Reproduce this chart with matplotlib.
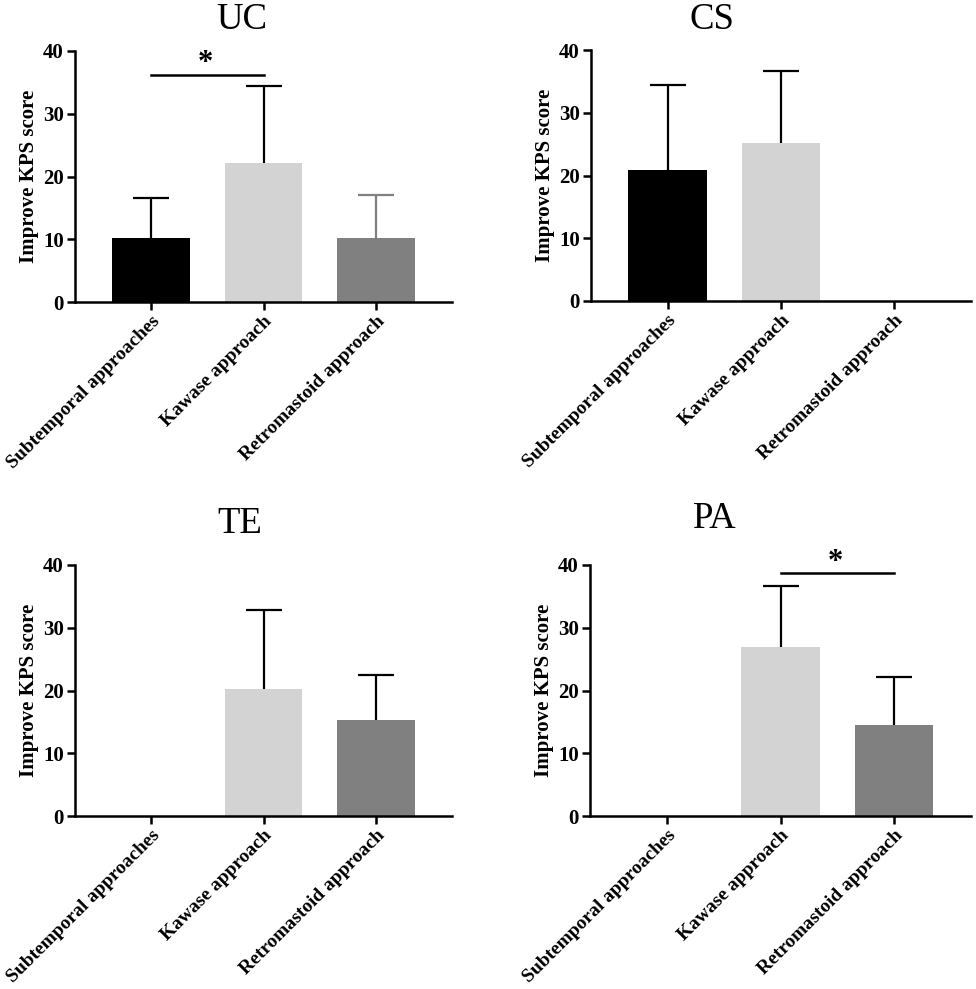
import numpy as np
import matplotlib
matplotlib.use("Agg")
import matplotlib.pyplot as plt

plt.rcParams['font.family'] = ['Liberation Serif', 'DejaVu Serif']

# categories and colours
groups = ["Subtemporal approaches", "Kawase approach", "Retromastoid approach"]
colors = ["#000000", "#d3d3d3", "#808080"]

# mean improvement of KPS score and SD (upper bar only), nan = no bar
uc_mean = [10.2, 22.2, 10.2]
uc_sd = [6.4, 12.3, 6.85]
cs_mean = [20.8, 25.2, np.nan]
cs_sd = [13.7, 11.5, np.nan]
te_mean = [np.nan, 20.2, 15.25]
te_sd = [np.nan, 12.6, 7.25]
pa_mean = [np.nan, 27.0, 14.45]
pa_sd = [np.nan, 9.65, 7.65]

# significance marks: (from, to, line height, star height)
uc_sig = (0, 1, 36.2, 38.0)
pa_sig = (1, 2, 38.7, 40.4)

fig = plt.figure(figsize=(9.76, 9.89), dpi=100)
W, H = 976, 989


def box(l, r, t, b):
    return [l / W, 1 - b / H, (r - l) / W, (b - t) / H]


panels = [
    ("UC", uc_mean, uc_sd, uc_sig, box(75, 452, 51, 302), (242, 29), ["#000000", "#000000", "#808080"]),
    ("CS", cs_mean, cs_sd, None, box(591, 971, 50, 301), (712, 29), ["#000000"] * 3),
    ("TE", te_mean, te_sd, None, box(75, 452, 565, 816), (240, 533), ["#000000"] * 3),
    ("PA", pa_mean, pa_sd, pa_sig, box(590, 971, 565, 816), (715, 528), ["#000000"] * 3),
]

x = np.arange(len(groups))
for name, mean, sd, sig, rect, tpos, ecols in panels:
    ax = fig.add_axes(rect)
    for i in range(len(groups)):
        if np.isnan(mean[i]):
            continue
        ax.bar(x[i], mean[i], width=0.69, color=colors[i], zorder=2)
        eb = ax.errorbar(x[i], mean[i], yerr=[[0], [sd[i]]], fmt='none',
                         ecolor=ecols[i], elinewidth=1.6, capsize=13, capthick=1.6, zorder=3)
        eb[1][0].set_visible(False)  # no cap at the bar top
    ax.set_xlim(-0.675, 2.675)
    ax.set_ylim(0, 40)
    ax.set_yticks([0, 10, 20, 30, 40])
    ax.set_xticks(x)
    ax.set_xticklabels(groups, rotation=45, ha='right', rotation_mode='anchor',
                       fontsize=14, fontweight='bold')
    for lab in ax.get_yticklabels():
        lab.set_fontsize(15)
        lab.set_fontweight('bold')
    ax.set_ylabel("Improve KPS score", fontsize=15, fontweight='bold', labelpad=3)
    ax.spines['top'].set_visible(False)
    ax.spines['right'].set_visible(False)
    for s in ('left', 'bottom'):
        ax.spines[s].set_linewidth(1.8)
    ax.tick_params(axis='both', width=1.8, length=6, direction='out', pad=2)
    if sig is not None:
        a, b, h, sh = sig
        ax.plot([a, b], [h, h], color='black', lw=1.8, clip_on=False)
        ax.text((a + b) / 2 - 0.02, sh, "*", ha='center', va='center',
                fontsize=22, fontweight='bold', clip_on=False)
    fig.text(tpos[0] / W, 1 - tpos[1] / H, name, ha='center', va='baseline', fontsize=26.5)

fig.savefig("out.png", dpi=100)
